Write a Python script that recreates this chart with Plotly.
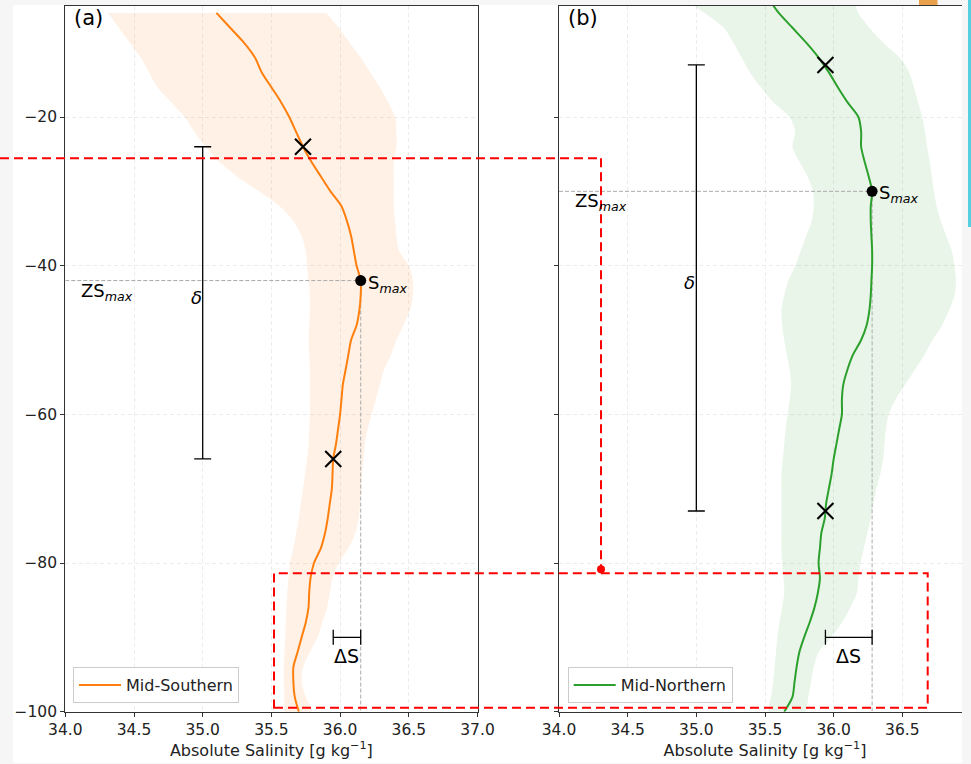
import plotly.graph_objects as go

W, H = 971, 764

# ---------------- Mid-Southern profile ----------------
depth_a = [-6, -8, -10, -12, -14, -16, -18, -20, -22, -24, -26, -28, -30, -32, -34,
           -36, -38, -40, -42, -44, -46, -48, -50, -52, -54, -56, -58, -60, -62, -64,
           -66, -68, -70, -72, -74, -76, -78, -80, -82, -84, -86, -88, -90, -92, -94,
           -96, -98, -100]
sal_a = [35.10, 35.20, 35.30, 35.38, 35.43, 35.50, 35.57, 35.63, 35.68, 35.73, 35.79,
         35.86, 35.93, 36.01, 36.05, 36.08, 36.10, 36.12, 36.15, 36.15, 36.14, 36.12,
         36.08, 36.06, 36.04, 36.02, 36.01, 36.00, 35.985, 35.97, 35.95, 35.945, 35.94,
         35.925, 35.91, 35.89, 35.86, 35.81, 35.785, 35.775, 35.77, 35.75, 35.72, 35.69,
         35.66, 35.66, 35.67, 35.70]
sal_a_lo = [34.31, 34.39, 34.47, 34.55, 34.61, 34.67, 34.77, 34.87, 34.94, 35.02, 35.12,
            35.25, 35.41, 35.56, 35.66, 35.72, 35.75, 35.76, 35.77, 35.78, 35.78, 35.775,
            35.77, 35.775, 35.78, 35.78, 35.78, 35.78, 35.775, 35.77, 35.76, 35.745, 35.73,
            35.715, 35.70, 35.68, 35.66, 35.635, 35.625, 35.615, 35.61, 35.605, 35.60,
            35.595, 35.59, 35.59, 35.595, 35.60]
sal_a_hi = [35.90, 35.99, 36.07, 36.15, 36.22, 36.29, 36.35, 36.40, 36.41, 36.41, 36.39,
            36.39, 36.39, 36.39, 36.40, 36.41, 36.43, 36.50, 36.53, 36.53, 36.51, 36.46,
            36.41, 36.37, 36.32, 36.29, 36.26, 36.23, 36.20, 36.18, 36.17, 36.16, 36.155,
            36.145, 36.135, 36.11, 36.06, 35.99, 35.945, 35.925, 35.905, 35.87, 35.835,
            35.78, 35.73, 35.72, 35.75, 35.79]

# ---------------- Mid-Northern profile ----------------
depth_b = [-5, -6, -8, -10, -12, -14, -16, -18, -20, -22, -24, -26, -28, -30, -32, -34,
           -36, -38, -40, -42, -44, -46, -48, -50, -52, -54, -56, -58, -60, -62, -64,
           -66, -68, -70, -72, -74, -76, -78, -80, -82, -84, -86, -88, -90, -92, -94,
           -96, -98, -100]
sal_b = [35.56, 35.60, 35.70, 35.80, 35.89, 35.965, 36.03, 36.10, 36.18, 36.20, 36.20,
         36.225, 36.255, 36.28, 36.27, 36.27, 36.275, 36.28, 36.28, 36.275, 36.27, 36.26,
         36.24, 36.20, 36.14, 36.10, 36.07, 36.06, 36.06, 36.04, 36.02, 36.00, 35.985,
         35.965, 35.945, 35.935, 35.91, 35.90, 35.89, 35.90, 35.885, 35.86, 35.825,
         35.785, 35.75, 35.73, 35.715, 35.70, 35.64]
sal_b_lo = [34.98, 35.06, 35.20, 35.27, 35.33, 35.39, 35.47, 35.56, 35.68, 35.72, 35.70,
            35.75, 35.81, 35.85, 35.855, 35.84, 35.80, 35.76, 35.72, 35.67, 35.64, 35.62,
            35.625, 35.64, 35.66, 35.68, 35.69, 35.68, 35.665, 35.65, 35.64, 35.63, 35.62,
            35.62, 35.62, 35.62, 35.62, 35.62, 35.625, 35.635, 35.64, 35.625, 35.605,
            35.59, 35.58, 35.57, 35.56, 35.545, 35.53]
sal_b_hi = [36.16, 36.18, 36.26, 36.36, 36.48, 36.55, 36.585, 36.615, 36.645, 36.665,
            36.68, 36.70, 36.715, 36.73, 36.75, 36.78, 36.82, 36.86, 36.88, 36.89, 36.88,
            36.84, 36.79, 36.72, 36.66, 36.59, 36.52, 36.45, 36.40, 36.38, 36.37, 36.36,
            36.34, 36.31, 36.29, 36.27, 36.245, 36.22, 36.195, 36.18, 36.17, 36.12, 36.06,
            35.98, 35.89, 35.855, 35.835, 35.815, 35.79]

# Salinity maximum and the two bounding points of each layer
smax_a, zsmax_a = 36.15, -42
upper_a = (35.73, -24)
lower_a = (35.95, -66)
smax_b, zsmax_b = 36.28, -30
upper_b = (35.94, -13)
lower_b = (35.94, -73)

delta_x = 35.0      # salinity where the layer-thickness bar is drawn
dS_depth = -90      # depth where the salinity-difference bar is drawn

x_ticks = [34.0, 34.5, 35.0, 35.5, 36.0, 36.5, 37.0]
y_ticks = [-100, -80, -60, -40, -20]

FONT = "DejaVu Sans"
ORANGE = "#ff7f0e"
GREEN = "#2ca02c"


def px(xp):
    return xp / W


def py(yp):
    return 1 - yp / H


fig = go.Figure()


def add_panel(xr, yr, depth, sal, lo, hi, color, fill, name, legend,
              smax, zsmax, upper, lower):
    fig.add_trace(go.Scatter(
        x=list(lo) + list(hi)[::-1], y=list(depth) + list(depth)[::-1],
        fill="toself", fillcolor=fill, mode="lines",
        line=dict(width=0, shape="spline", smoothing=0.8),
        hoverinfo="skip", showlegend=False, xaxis=xr, yaxis=yr))
    # guide lines through the salinity maximum
    fig.add_trace(go.Scatter(
        x=[34.0, smax], y=[zsmax, zsmax], mode="lines",
        line=dict(color="#aaaaaa", width=1, dash="4px,2px"),
        showlegend=False, xaxis=xr, yaxis=yr))
    fig.add_trace(go.Scatter(
        x=[smax, smax], y=[zsmax, -100], mode="lines",
        line=dict(color="#aaaaaa", width=1, dash="4px,2px"),
        showlegend=False, xaxis=xr, yaxis=yr))
    # mean profile
    fig.add_trace(go.Scatter(
        x=sal, y=depth, mode="lines", name=name,
        line=dict(color=color, width=2, shape="spline", smoothing=0.8),
        legend=legend, xaxis=xr, yaxis=yr))
    # layer thickness bar
    fig.add_trace(go.Scatter(
        x=[delta_x], y=[(upper[1] + lower[1]) / 2], mode="markers",
        marker=dict(size=1, color="rgba(0,0,0,0)"),
        error_y=dict(type="data", symmetric=True, array=[(upper[1] - lower[1]) / 2],
                     width=8.5, thickness=1.3, color="black"),
        showlegend=False, xaxis=xr, yaxis=yr))
    # salinity difference bar
    fig.add_trace(go.Scatter(
        x=[(lower[0] + smax) / 2], y=[dS_depth], mode="markers",
        marker=dict(size=1, color="rgba(0,0,0,0)"),
        error_x=dict(type="data", symmetric=True, array=[(smax - lower[0]) / 2],
                     width=7.5, thickness=1.3, color="black"),
        showlegend=False, xaxis=xr, yaxis=yr))
    # layer bounds and salinity maximum
    fig.add_trace(go.Scatter(
        x=[upper[0], lower[0]], y=[upper[1], lower[1]], mode="markers",
        marker=dict(symbol="x-thin", size=16, line=dict(width=2.1, color="black")),
        showlegend=False, xaxis=xr, yaxis=yr))
    fig.add_trace(go.Scatter(
        x=[smax], y=[zsmax], mode="markers",
        marker=dict(symbol="circle", size=11, color="black"),
        showlegend=False, xaxis=xr, yaxis=yr))

    xref = "x" if xr == "x" else "x2"
    yref = "y" if yr == "y" else "y2"
    lab = dict(xref=xref, yref=yref, showarrow=False)
    font18 = dict(family=FONT, size=18, color="black")
    fig.add_annotation(x=smax, y=zsmax, text="S<sub><i>max</i></sub>",
                       xanchor="left", yanchor="middle", xshift=5, yshift=-3,
                       font=font18, **lab)
    fig.add_annotation(x=34.1, y=zsmax, text="ZS<sub><i>max</i></sub>",
                       xanchor="left", yanchor="top", yshift=3,
                       font=font18, **lab)
    fig.add_annotation(x=delta_x, y=(upper[1] + lower[1]) / 2, text="<i>δ</i>",
                       xanchor="right", yanchor="middle", xshift=1, yshift=5,
                       font=font18, **lab)
    fig.add_annotation(x=(lower[0] + smax) / 2, y=dS_depth, text="ΔS",
                       xanchor="center", yanchor="top", yshift=-6,
                       font=dict(family=FONT, size=19, color="black"), **lab)


add_panel("x", "y", depth_a, sal_a, sal_a_lo, sal_a_hi, ORANGE,
          "rgba(255,127,14,0.11)", "Mid-Southern", "legend",
          smax_a, zsmax_a, upper_a, lower_a)
add_panel("x2", "y2", depth_b, sal_b, sal_b_lo, sal_b_hi, GREEN,
          "rgba(44,160,44,0.11)", "Mid-Northern", "legend2",
          smax_b, zsmax_b, upper_b, lower_b)

# panel letters
for ref, letter in (("x domain", "(a)"), ("x2 domain", "(b)")):
    fig.add_annotation(xref=ref, yref="y domain" if ref == "x domain" else "y2 domain",
                       x=0.017, y=0.982, text=letter, showarrow=False,
                       xanchor="left", yanchor="middle",
                       font=dict(family=FONT, size=21, color="black"))

axis_common = dict(
    range=[34.0, 37.0], tickvals=x_ticks, tickformat=".1f", automargin=False,
    showline=True, linecolor="#333333", linewidth=1.2, mirror=True,
    ticks="outside", ticklen=4, tickcolor="#333333",
    showgrid=True, gridcolor="#ececec", griddash="4px,3px", gridwidth=1,
    zeroline=False, tickfont=dict(family=FONT, size=15.5, color="#222222"),
    title=dict(text="Absolute Salinity [g kg<sup>−1</sup>]", standoff=6,
               font=dict(family=FONT, size=16, color="#222222")),
)
yaxis_common = dict(
    range=[-100, -5], tickvals=y_ticks, automargin=False,
    showline=True, linecolor="#333333", linewidth=1.2, mirror=True,
    ticks="outside", ticklen=4, tickcolor="#333333",
    showgrid=True, gridcolor="#ececec", griddash="4px,3px", gridwidth=1,
    zeroline=False, tickfont=dict(family=FONT, size=15.5, color="#222222"),
    domain=[py(711.7), py(5.5)],
)

legend_common = dict(y=py(703), xanchor="left", yanchor="bottom",
                     bgcolor="white", bordercolor="#cccccc", borderwidth=1,
                     itemwidth=42,
                     font=dict(family=FONT, size=16, color="#222222"))

fig.update_layout(
    width=W, height=H, autosize=False,
    margin=dict(l=0, r=0, t=0, b=0),
    paper_bgcolor="#f6f6f6", plot_bgcolor="white",
    xaxis=dict(domain=[px(65.3), px(477.5)], anchor="y", **axis_common),
    xaxis2=dict(domain=[px(559), 1.0], anchor="y2", **axis_common),
    yaxis=dict(anchor="x", **yaxis_common),
    yaxis2=dict(anchor="x2", showticklabels=False, **yaxis_common),
    legend=dict(x=px(73), **legend_common),
    legend2=dict(x=px(567.7), **legend_common),
)

# white figure canvas behind the axes
fig.add_shape(type="rect", xref="paper", yref="paper", layer="below",
              x0=px(13), x1=px(962), y0=py(763), y1=py(5),
              fillcolor="white", line=dict(width=0))

# red dashed call-outs
RED = dict(color="#ff0000", width=2, dash="9px,5px")
fig.add_shape(type="line", xref="paper", yref="paper", layer="above",
              x0=px(0), x1=px(601), y0=py(158.3), y1=py(158.3), line=RED)
fig.add_shape(type="line", xref="paper", yref="paper", layer="above",
              x0=px(601), x1=px(601), y0=py(158.3), y1=py(569.3), line=RED)
fig.add_shape(type="circle", xref="paper", yref="paper", layer="above",
              x0=px(597), x1=px(605), y0=py(573.3), y1=py(565.3),
              fillcolor="#ff0000", line=dict(width=0))
fig.add_shape(type="rect", xref="paper", yref="paper", layer="above",
              x0=px(274), x1=px(927.7), y0=py(707.7), y1=py(573.3), line=RED)

# right-hand strip with its side bar, and the small tab at the top
fig.add_shape(type="rect", xref="paper", yref="paper", layer="above",
              x0=px(962), x1=1.0, y0=0, y1=1,
              fillcolor="#f6f6f6", line=dict(width=0))
fig.add_shape(type="rect", xref="paper", yref="paper", layer="above",
              x0=px(968), x1=1.0, y0=py(227), y1=1,
              fillcolor="#55d0e0", line=dict(width=0))
fig.add_shape(type="rect", xref="paper", yref="paper", layer="above",
              x0=px(919), x1=px(937.5), y0=py(5), y1=1,
              fillcolor="#e8a04b", line=dict(width=0))

fig.write_html("out.html")
